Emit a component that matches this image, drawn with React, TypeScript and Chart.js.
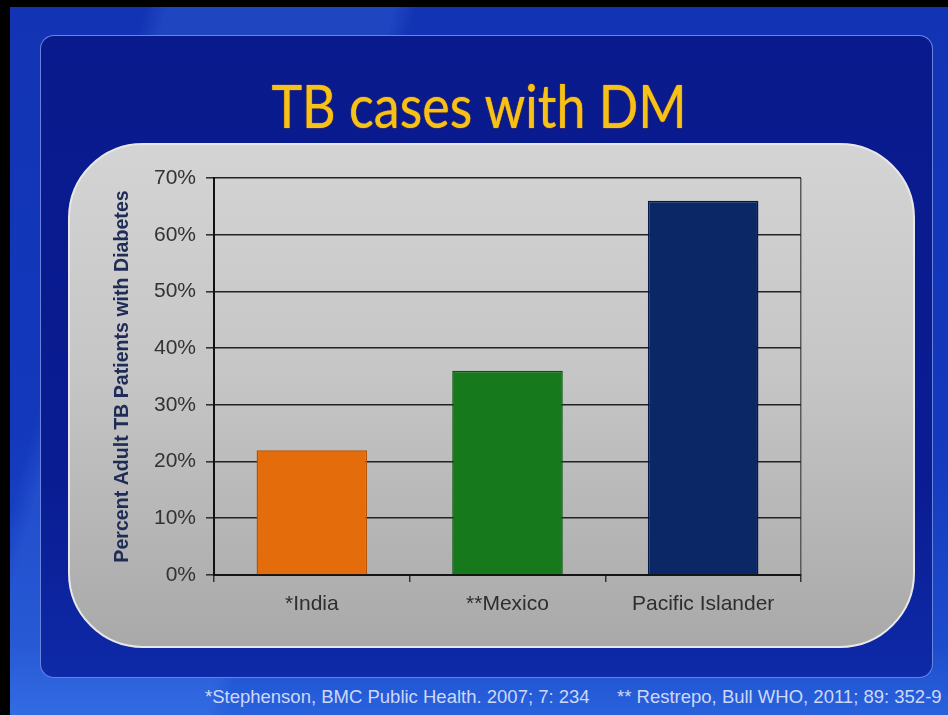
import React, { useEffect, useRef } from "react";
import { Chart, registerables } from "chart.js";

Chart.register(...registerables);

const categories = ["*India", "**Mexico", "Pacific Islander"];
const percentValues = [22, 36, 66];
const barColors = ["#e46c0a", "#16791b", "#0b2766"];
const barBorderColors = ["#b35408", "#0c5510", "#061a48"];
const yMin = 0;
const yMax = 70;
const yStep = 10;
const titleText = "TB cases with DM";
const yAxisTitle = "Percent Adult TB Patients with Diabetes";
const footnoteA = "*Stephenson, BMC Public Health. 2007; 7: 234";
const footnoteB = "** Restrepo, Bull WHO, 2011; 89: 352-9";

const FONT = "'Liberation Sans', Arial, sans-serif";

export default function App() {
  const canvasRef = useRef<HTMLCanvasElement | null>(null);

  useEffect(() => {
    const canvas = canvasRef.current;
    if (!canvas) return;
    const chart = new Chart(canvas, {
      type: "bar",
      data: {
        labels: categories,
        datasets: [
          {
            data: percentValues,
            backgroundColor: barColors,
            borderColor: barBorderColors,
            borderWidth: 1.5,
            barPercentage: 0.565,
            categoryPercentage: 1,
          },
        ],
      },
      options: {
        responsive: false,
        animation: false,
        layout: { padding: { top: 35, right: 114, bottom: 0, left: 0 } },
        plugins: {
          legend: { display: false },
          tooltip: { enabled: false },
          title: { display: false },
        },
        scales: {
          x: {
            offset: true,
            grid: {
              offset: true,
              color: (ctx: any) => (ctx.tick ? "rgba(0,0,0,0)" : "#5a5a5a"),
              lineWidth: 1.5,
              tickLength: 7,
              tickColor: "#333",
            },
            border: { color: "#151515", width: 2 },
            ticks: {
              color: "#2e2e2e",
              font: { family: FONT, size: 21 },
              padding: 10,
            },
            afterFit: (s: any) => {
              s.height = 73;
            },
          },
          y: {
            min: yMin,
            max: yMax,
            ticks: {
              stepSize: yStep,
              callback: (v: any) => v + "%",
              color: "#333",
              font: { family: FONT, size: 21 },
              padding: 10,
            },
            grid: {
              color: "#222",
              lineWidth: 1.6,
              tickLength: 8,
              tickColor: "#333",
            },
            border: { color: "#111", width: 2 },
            title: {
              display: true,
              text: yAxisTitle,
              color: "#1f2c56",
              font: { family: FONT, size: 19.6, weight: "bold" },
              padding: { top: 43, bottom: 0 },
            },
            afterFit: (s: any) => {
              s.width = 146;
            },
          },
        },
      },
    });
    return () => chart.destroy();
  }, []);

  const footStyle: React.CSSProperties = {
    position: "absolute",
    top: 687,
    whiteSpace: "pre",
    fontFamily: FONT,
    fontSize: 18.5,
    lineHeight: "20px",
    color: "#cdd8f8",
  };

  return (
    <div
      style={{
        position: "absolute",
        left: 0,
        top: 0,
        width: 948,
        height: 715,
        background: "#000",
        overflow: "hidden",
      }}
    >
      <div
        style={{
          position: "absolute",
          left: 10,
          top: 7,
          width: 938,
          height: 708,
          background:
            "linear-gradient(105deg, rgba(255,255,255,0) 0%, rgba(255,255,255,0) 12%, rgba(90,150,255,0.18) 14%, rgba(90,150,255,0.18) 34%, rgba(255,255,255,0) 36%), linear-gradient(180deg, #1234b4 0%, #1338bc 60%, #1c4ccc 90%, #2a62dc 100%)",
        }}
      />
      <div
        style={{
          position: "absolute",
          left: 40,
          top: 35,
          width: 893,
          height: 643,
          boxSizing: "border-box",
          borderRadius: 14,
          border: "1.5px solid rgba(120,150,235,0.85)",
          background: "linear-gradient(180deg, #081a8c 0%, #0a1c92 70%, #0e2aa8 100%)",
        }}
      />
      <div
        style={{
          position: "absolute",
          left: 179,
          top: 75,
          width: 600,
          textAlign: "center",
          whiteSpace: "nowrap",
          fontFamily: "Lato, 'Open Sans', sans-serif",
          fontSize: 52,
          lineHeight: "52px",
          color: "#f5c21a",
          textShadow: "0 0 1px #c46a00, 0 0 1px #c46a00",
          transform: "scaleY(1.15)",
          transformOrigin: "50% 0",
        }}
      >
        {titleText}
      </div>
      <div
        style={{
          position: "absolute",
          left: 68,
          top: 143,
          width: 847,
          height: 505,
          boxSizing: "border-box",
          borderRadius: 75,
          border: "2px solid #e8e8e8",
          background: "linear-gradient(180deg, #d4d4d4 0%, #c6c6c6 45%, #a9a9a9 100%)",
        }}
      />
      <div style={{ position: "absolute", left: 68, top: 143, width: 847, height: 505 }}>
        <canvas ref={canvasRef} width={847} height={505} style={{ display: "block" }} />
      </div>
      <div style={{ ...footStyle, left: 205 }}>{footnoteA}</div>
      <div style={{ ...footStyle, left: 617 }}>{footnoteB}</div>
    </div>
  );
}
